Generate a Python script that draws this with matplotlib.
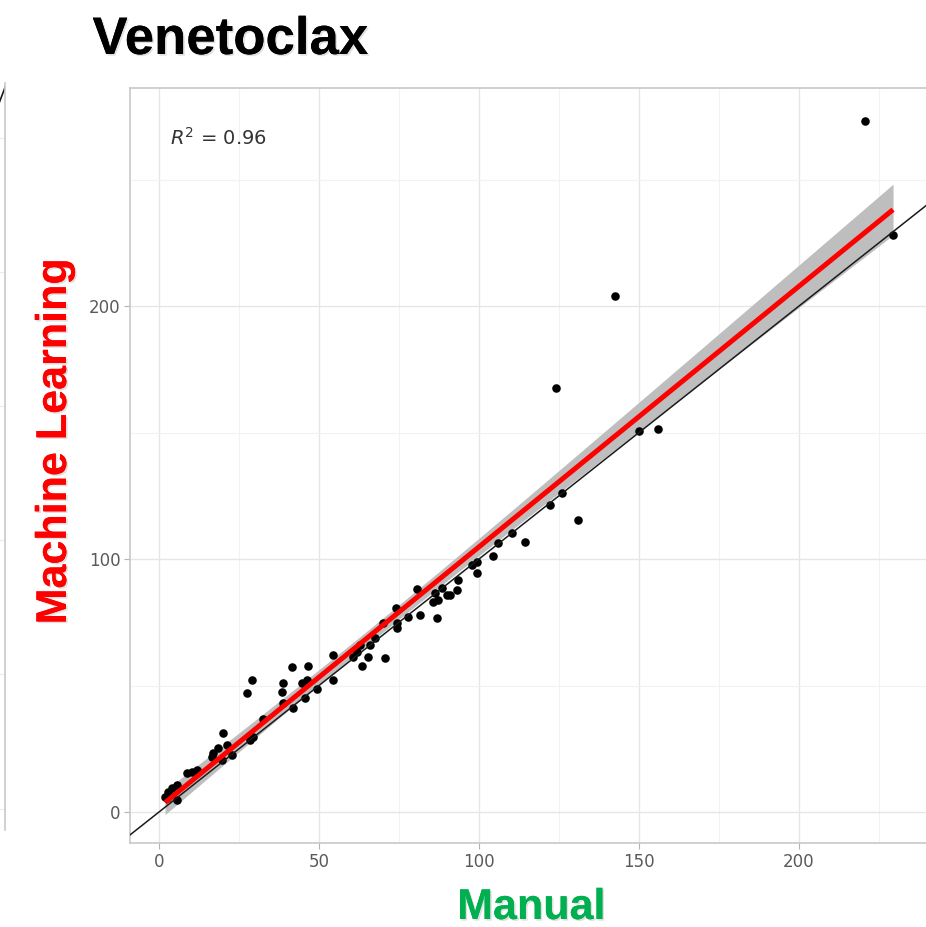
import numpy as np
import matplotlib
matplotlib.use("Agg")
import matplotlib.pyplot as plt
import matplotlib.patheffects as pe
from matplotlib import font_manager as fm

# ---------------- data ----------------
manual = [1.9, 2.8, 4.1, 5.6, 5.6, 2.5, 8.75, 10.3, 11.9, 16.6, 16.9, 18.4, 20.0,
          21.25, 22.8, 19.7, 28.4, 29.4, 32.5, 27.5, 29.1, 38.75, 38.4, 38.75,
          41.6, 46.6, 44.7, 46.25, 45.6, 41.9, 49.4, 54.4, 54.4,
          60.6, 61.9, 62.8, 65.9, 67.5, 63.4, 65.3, 70.6, 70.0, 74.4, 74.4, 74.1,
          77.8, 81.6, 86.9, 80.6, 86.25, 87.2, 90.0, 85.6, 88.4, 90.9, 93.1, 93.4,
          97.8, 99.4, 99.4, 104.4, 105.9, 110.3, 114.4, 122.2, 125.9, 130.9,
          124.1, 142.5, 150.0, 155.9, 220.6, 229.4]
machine = [5.9, 7.9, 9.5, 10.7, 4.7, 5.5, 15.4, 15.8, 16.6, 21.7, 23.3, 25.3, 31.2,
           26.5, 22.5, 20.6, 28.5, 29.6, 36.8, 47.0, 52.2, 51.0, 47.4, 43.1,
           57.3, 57.7, 51.0, 52.2, 45.0, 41.1, 48.6, 62.0, 52.2,
           61.3, 63.2, 66.0, 66.0, 68.8, 57.7, 61.3, 60.9, 74.7, 74.7, 72.7, 80.6,
           77.1, 77.9, 76.7, 88.1, 86.6, 83.8, 85.8, 83.0, 88.5, 85.8, 87.7, 91.7,
           97.6, 98.8, 94.5, 101.2, 106.3, 110.3, 106.7, 121.3, 126.1, 115.4,
           167.6, 204.0, 150.6, 151.4, 273.1, 228.1]
x_ticks = [0, 50, 100, 150, 200]
y_ticks = [0, 100, 200]
title = "Venetoclax"
xlabel = "Manual"
ylabel = "Machine Learning"
r2_label = r"$R^2$ = 0.96"

x = np.array(manual)
y = np.array(machine)

# ---------------- fonts ----------------
avail = {f.name for f in fm.fontManager.ttflist}
narrow = "Liberation Sans Narrow" if "Liberation Sans Narrow" in avail else "Liberation Sans"
narrow_size = 37 if narrow == "Liberation Sans Narrow" else 31

W, H = 926, 927
fig = plt.figure(figsize=(W / 100, H / 100), dpi=100)

# main panel geometry (pixels)
L, R, T, B = 130, 926, 88, 843
ax = fig.add_axes([L / W, 1 - B / H, (R - L) / W, (B - T) / H])
ax.set_xlim(-9.06, 239.7)
ax.set_ylim(-12.25, 286.2)

# grid
ax.set_xticks(x_ticks)
ax.set_yticks(y_ticks)
ax.set_xticks([25, 75, 125, 175, 225], minor=True)
ax.set_yticks([50, 150, 250], minor=True)
ax.grid(which="major", color="#e6e6e6", lw=1.0)
ax.grid(which="minor", color="#f2f2f2", lw=0.8)
ax.set_axisbelow(True)
ax.tick_params(which="minor", length=0)
ax.tick_params(which="major", length=4, width=0.8, color="#b3b3b3",
               labelsize=12, labelcolor="#5a5a5a", pad=3)
for s in ["left", "top", "bottom"]:
    ax.spines[s].set_color("#c8c8c8")
    ax.spines[s].set_linewidth(1.2)
ax.spines["right"].set_visible(False)

# linear fit with 95% CI (like geom_smooth(method="lm"))
n = len(x)
b1, b0 = np.polyfit(x, y, 1)
xs = np.linspace(x.min(), x.max(), 200)
yfit = b0 + b1 * xs
resid = y - (b0 + b1 * x)
s = np.sqrt(np.sum(resid ** 2) / (n - 2))
sxx = np.sum((x - x.mean()) ** 2)
se = s * np.sqrt(1 / n + (xs - x.mean()) ** 2 / sxx)
tval = 1.993
ax.fill_between(xs, yfit - tval * se, yfit + tval * se, color="#bebebe", lw=0, zorder=1.5)

ax.scatter(x, y, s=38, color="black", lw=0, zorder=2)

# identity line
lim = np.array([-20, 300])
ax.plot(lim, lim, color="#1a1a1a", lw=1.1, zorder=3)
ax.plot(xs, yfit, color="#ff0000", lw=3.6, zorder=4, solid_capstyle="butt")

ax.text(3.5, 266.4, r2_label, ha="left", va="center", fontsize=14, color="#333333")

# partial neighbouring panel on the far left
axl = fig.add_axes([-60 / W, 1 - 830 / H, 65 / W, (830 - 83) / H])
axl.set_xlim(0, 1)
axl.set_ylim(0, 5.57)
axl.set_xticks([])
axl.set_yticks([0.16, 1.16, 2.16, 3.16, 4.16, 5.16])
axl.tick_params(length=0, labelleft=False)
axl.grid(axis="y", color="#ececec", lw=0.8)
for sp in ["left", "top", "bottom"]:
    axl.spines[sp].set_visible(False)
axl.spines["right"].set_color("#c8c8c8")
axl.spines["right"].set_linewidth(1.2)
axl.plot([0.5, 1.05], [4.9, 5.6], color="#1a1a1a", lw=1.2, clip_on=True)

shadow = [pe.withSimplePatchShadow(offset=(1.2, -1.2), shadow_rgbFace="#999999", alpha=0.3), pe.Normal()]

fig.text(230 / W, 1 - 40 / H, title, ha="center", va="center", fontsize=38,
         fontweight="bold", family="Liberation Sans", color="black", path_effects=shadow)
fig.text(55 / W, 1 - 442 / H, ylabel, ha="center", va="center", rotation=90,
         fontsize=narrow_size, fontweight="bold", family=narrow, color="#ff0000",
         path_effects=shadow)
fig.text(531 / W, 1 - 908 / H, xlabel, ha="center", va="center",
         fontsize=narrow_size, fontweight="bold", family=narrow, color="#00b050",
         path_effects=shadow)

fig.savefig("out.png", dpi=100)
